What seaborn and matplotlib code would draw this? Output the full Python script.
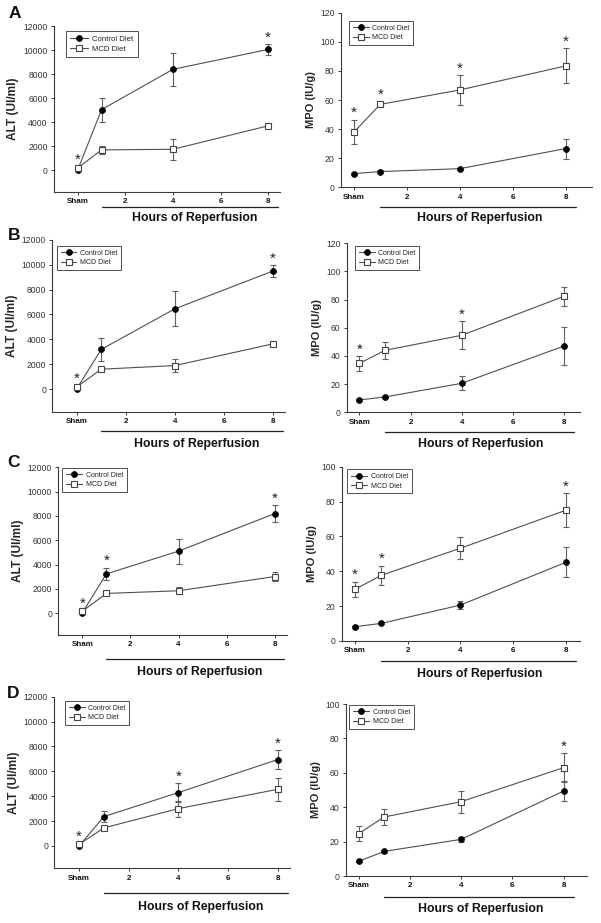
import numpy as np
import pandas as pd
import matplotlib
matplotlib.use("Agg")
import matplotlib.pyplot as plt
import matplotlib.transforms as mtransforms
import seaborn as sns

# ---------------- data ----------------
hours = [0, 1, 4, 8]                     # 0 = Sham
xticks = [0, 2, 4, 6, 8]
xticklabels = ["Sham", "2", "4", "6", "8"]
series_names = ["Control Diet", "MCD Diet"]
panel_letters = ["A", "B", "C", "D"]

alt_ctrl = {
    "A": [50, 5050, 8400, 10050],
    "B": [50, 3200, 6450, 9480],
    "C": [30, 3230, 5100, 8190],
    "D": [0, 2360, 4290, 6940],
}
alt_ctrl_err = {
    "A": [60, 1000, 1350, 470],
    "B": [60, 920, 1400, 450],
    "C": [60, 520, 1040, 690],
    "D": [60, 450, 740, 750],
}
alt_mcd = {
    "A": [200, 1700, 1750, 3700],
    "B": [190, 1610, 1900, 3640],
    "C": [160, 1620, 1840, 3010],
    "D": [130, 1450, 3000, 4550],
}
alt_mcd_err = {
    "A": [100, 330, 870, 100],
    "B": [100, 100, 500, 120],
    "C": [100, 100, 300, 380],
    "D": [100, 100, 650, 940],
}
mpo_ctrl = {
    "A": [9.4, 10.8, 12.8, 26.6],
    "B": [8.8, 10.9, 20.6, 47.1],
    "C": [8.2, 10.1, 20.6, 45.1],
    "D": [8.5, 14.3, 21.3, 49.4],
}
mpo_ctrl_err = {
    "A": [0.6, 0.8, 0.8, 6.9],
    "B": [0.6, 0.8, 5.0, 13.6],
    "C": [0.5, 0.6, 2.5, 8.6],
    "D": [0.5, 1.0, 1.5, 5.8],
}
mpo_mcd = {
    "A": [38.0, 57.0, 66.9, 83.4],
    "B": [34.8, 44.0, 54.7, 82.4],
    "C": [29.6, 37.7, 53.2, 75.0],
    "D": [24.6, 34.3, 43.2, 63.0],
}
mpo_mcd_err = {
    "A": [8.5, 2.0, 10.0, 12.0],
    "B": [5.3, 6.0, 9.8, 6.6],
    "C": [4.4, 5.5, 6.2, 9.8],
    "D": [4.2, 4.7, 6.3, 8.5],
}
alt_stars = {"A": [0, 8], "B": [0, 8], "C": [0, 1, 8], "D": [0, 4, 8]}
mpo_stars = {"A": [0, 1, 4, 8], "B": [0, 4], "C": [0, 1, 8], "D": [8]}

alt_yticks = [0, 2000, 4000, 6000, 8000, 10000, 12000]
mpo_yticks_120 = [0, 20, 40, 60, 80, 100, 120]
mpo_yticks_100 = [0, 20, 40, 60, 80, 100]

# ---------------- layout (pixels) ----------------
W, H = 601, 923
sns.set_style("ticks")
plt.rcParams["font.family"] = ["Liberation Sans", "DejaVu Sans"]

fig = plt.figure(figsize=(W / 100, H / 100), dpi=100)

def px_axes(x0, x1, ytop, ybot):
    return fig.add_axes([x0 / W, 1 - ybot / H, (x1 - x0) / W, (ybot - ytop) / H])

alt_boxes = {"A": (54, 280, 26, 192), "B": (52.3, 285, 239.7, 411.7),
             "C": (58.3, 286.7, 467.3, 635), "D": (54.3, 290, 696.7, 868.3)}
mpo_boxes = {"A": (340.7, 592, 12.7, 187.3), "B": (346.7, 580, 243.3, 412.3),
             "C": (341.7, 580, 466.7, 641), "D": (345.7, 586.7, 704, 876)}
mpo_xright = {"A": 9.0, "B": 8.62, "C": 8.54, "D": 8.9}
mpo_ytop = {"A": 120, "B": 120, "C": 100, "D": 100}
alt_underline = {"A": 207.3, "B": 430.7, "C": 659, "D": 892.7}
mpo_underline = {"A": 207, "B": 432, "C": 660.7, "D": 896.7}
alt_hlabel = {"A": 218, "B": 444, "C": 671.7, "D": 906.7}
mpo_hlabel = {"A": 218, "B": 444, "C": 674, "D": 909.3}
alt_leg_off = {"A": (12, 5), "B": (4.4, 6.3), "C": (4, 0.5), "D": (10.7, 4)}
mpo_leg_off = {"A": (8.3, 8), "B": (8.3, 2.7), "C": (5.6, 2.6), "D": (3.6, 0.8)}
letter_pos = {"A": (15, 14), "B": (14.5, 235), "C": (13, 462.5), "D": (13, 693)}

line_col = "#4f4f4f"
spine_col = "#3a3a3a"


def draw_panel(ax, ctrl, ctrl_err, mcd, mcd_err, stars, xlim, ylim, yticks,
               ylabel, ylab_size, box, leg_off, underline_px, hlabel_px, hlabel_x,
               leg_size):
    # error bars
    ax.errorbar(hours, ctrl, yerr=ctrl_err, fmt="none", ecolor="#606060",
                elinewidth=0.8, capsize=2.2, capthick=0.8, zorder=2)
    ax.errorbar(hours, mcd, yerr=mcd_err, fmt="none", ecolor="#606060",
                elinewidth=0.8, capsize=2.2, capthick=0.8, zorder=2)
    sns.lineplot(x=hours, y=ctrl, ax=ax, color=line_col, linewidth=0.8,
                 marker="o", markersize=4.3, markerfacecolor="black",
                 markeredgecolor="black", markeredgewidth=0.5,
                 label=series_names[0], zorder=3)
    sns.lineplot(x=hours, y=mcd, ax=ax, color=line_col, linewidth=0.8,
                 marker="s", markersize=4.5, markerfacecolor="white",
                 markeredgecolor="#444444", markeredgewidth=0.8,
                 label=series_names[1], zorder=4)
    ax.set_xlim(*xlim)
    ax.set_ylim(*ylim)
    ax.set_xticks(xticks)
    ax.set_xticklabels(xticklabels, fontweight="bold", fontsize=5.8, color="#111")
    ax.set_yticks(yticks)
    ax.set_yticklabels([str(v) for v in yticks], fontsize=6.2, color="#333")
    ax.tick_params(length=2.5, width=0.7, color=spine_col, pad=2)
    for s in ["top", "right"]:
        ax.spines[s].set_visible(False)
    for s in ["left", "bottom"]:
        ax.spines[s].set_color(spine_col)
        ax.spines[s].set_linewidth(0.8)
    ax.set_xlabel("")
    ax.set_ylabel(ylabel, fontsize=ylab_size, fontweight="bold", labelpad=3)

    # stars
    for xs in stars:
        i = hours.index(xs)
        top = max(ctrl[i] + ctrl_err[i], mcd[i] + mcd_err[i])
        ax.annotate("*", xy=(xs, top), xytext=(0, 1.8), textcoords="offset points",
                    ha="center", va="baseline", fontsize=11, color="#222",
                    annotation_clip=False)

    # legend
    x0, x1, ytop, ybot = box
    lx = (x0 + leg_off[0]) / W
    ly = 1 - (ytop + leg_off[1]) / H
    leg = ax.legend(loc="upper left", bbox_to_anchor=(lx, ly),
                    bbox_transform=fig.transFigure, fontsize=leg_size,
                    frameon=True, fancybox=False, borderpad=0.55,
                    labelspacing=0.35, handlelength=2.3, handletextpad=0.5,
                    borderaxespad=0)
    leg.get_frame().set_edgecolor("#222")
    leg.get_frame().set_linewidth(0.7)
    for t in leg.get_texts():
        t.set_color("#222")

    # "Hours of Reperfusion" underline and label
    trans = mtransforms.blended_transform_factory(ax.transData, fig.transFigure)
    uy = 1 - underline_px / H
    ax.plot([1, 8.4], [uy, uy], transform=trans, color="#222", linewidth=0.9,
            clip_on=False)
    ax.text(hlabel_x, 1 - hlabel_px / H, "Hours of Reperfusion", transform=trans,
            ha="center", va="center", fontsize=8.8, fontweight="bold",
            color="#111")


for p in panel_letters:
    axl = px_axes(*alt_boxes[p])
    draw_panel(axl, alt_ctrl[p], alt_ctrl_err[p], alt_mcd[p], alt_mcd_err[p],
               alt_stars[p], (-1, 8.5), (-1800, 12000), alt_yticks,
               "ALT (UI/ml)", 8.6, alt_boxes[p], alt_leg_off[p],
               alt_underline[p], alt_hlabel[p], 4.9, 5.6 if p == "A" else 5.0)
    axr = px_axes(*mpo_boxes[p])
    draw_panel(axr, mpo_ctrl[p], mpo_ctrl_err[p], mpo_mcd[p], mpo_mcd_err[p],
               mpo_stars[p], (-0.5, mpo_xright[p]), (0, mpo_ytop[p]),
               mpo_yticks_120 if mpo_ytop[p] == 120 else mpo_yticks_100,
               "MPO (IU/g)", 8.0, mpo_boxes[p], mpo_leg_off[p],
               mpo_underline[p], mpo_hlabel[p], 4.75, 5.0)
    lx, ly = letter_pos[p]
    fig.text(lx / W, 1 - ly / H, p, fontsize=12.5, fontweight="bold",
             ha="center", va="center", color="#111")

fig.savefig("out.png", dpi=100)
